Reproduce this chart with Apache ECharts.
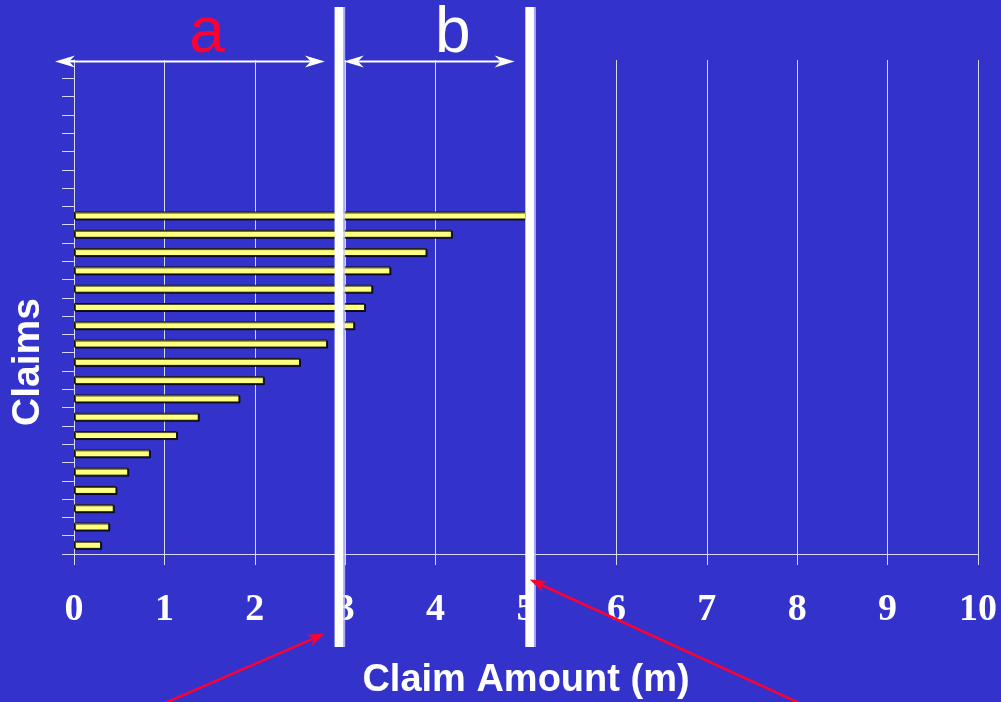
<!DOCTYPE html>
<html>
<head>
<meta charset="utf-8">
<script src="https://cdn.jsdelivr.net/npm/echarts@6/dist/echarts.min.js"></script>
<style>
  html, body { margin: 0; padding: 0; background: #3333cc; }
  #chart { width: 1001px; height: 702px; }
</style>
</head>
<body>
<div id="chart"></div>
<script>
// Individual claim amounts (m), smallest claim in the bottom row
const claimAmounts = [0.30, 0.39, 0.44, 0.47, 0.60, 0.84, 1.14, 1.38, 1.83, 2.10,
                      2.50, 2.80, 3.10, 3.22, 3.30, 3.50, 3.90, 4.18, 5.00];
// Unused claim rows above the largest claim
const emptyRows = 8;
// Claim amount axis ticks
const amountTicks = [0, 1, 2, 3, 4, 5, 6, 7, 8, 9, 10];
// Layer boundaries drawn as thick vertical lines
const layerBounds = [2.93, 5.04];
const layerLabels = ['a', 'b'];

const rows = [];
for (let i = 0; i < claimAmounts.length + emptyRows; i++) rows.push('Claim ' + (i + 1));

const BG = '#3333cc';
const GRID = '#d8d8f8';
const RED = '#ff0033';

// Overlay: layer boundaries, span arrows, their letters and the pointers below the axis
function drawLayers(params, api) {
  const cs = params.coordSys;
  const top = cs.y, bottom = cs.y + cs.height;
  const px = v => api.coord([v, 0])[0];
  const x0 = px(amountTicks[0]);
  const xa = px(layerBounds[0]);
  const xb = px(layerBounds[1]);
  const kids = [];

  // thick white boundary lines
  [xa, xb].forEach(x => {
    kids.push({
      type: 'rect',
      shape: { x: x - 4.3, y: top - 53, width: 8.6, height: cs.height + 146 },
      style: { fill: '#ffffff', shadowColor: 'rgba(200,200,255,0.8)', shadowOffsetX: 2, shadowBlur: 0 }
    });
  });

  // double-headed arrows along the top
  function head(tipX, y, dir, color, len, half, notch) {
    return {
      type: 'polygon',
      shape: { points: [[tipX, y], [tipX - dir * len, y - half], [tipX - dir * notch, y], [tipX - dir * len, y + half]] },
      style: { fill: color }
    };
  }
  function span(x1, x2, y) {
    kids.push({ type: 'line', shape: { x1: x1 + 6, y1: y, x2: x2 - 6, y2: y },
                style: { stroke: '#ffffff', lineWidth: 2 } });
    kids.push(head(x1, y, -1, '#ffffff', 20, 6, 14));
    kids.push(head(x2, y, 1, '#ffffff', 20, 6, 14));
  }
  const ay = top + 1.5;
  span(x0 - 19, xa - 14, ay);
  span(xa + 5, xb - 15, ay);

  // letters above the spans
  kids.push({ type: 'text', style: { text: layerLabels[0], x: x0 + 133, y: top + 6,
    fill: RED, font: '64px "Liberation Sans", Arial, sans-serif', align: 'center', verticalAlign: 'bottom' } });
  kids.push({ type: 'text', style: { text: layerLabels[1], x: xa + 114, y: top + 6,
    fill: '#ffffff', font: '64px "Liberation Sans", Arial, sans-serif', align: 'center', verticalAlign: 'bottom' } });

  // red pointers from below the axis to the boundary lines
  function pointer(tx, ty, fx, fy) {
    const ang = Math.atan2(ty - fy, tx - fx);
    const c = Math.cos(ang), s = Math.sin(ang);
    const len = 17, half = 6, notch = 12;
    const p = (a, b) => [tx - c * a - s * b, ty - s * a + c * b];
    kids.push({ type: 'line', shape: { x1: fx, y1: fy, x2: tx - c * notch, y2: ty - s * notch },
                style: { stroke: RED, lineWidth: 2.5 } });
    kids.push({ type: 'polygon', shape: { points: [[tx, ty], p(len, -half), p(notch, 0), p(len, half)] },
                style: { fill: RED } });
  }
  pointer(xa - 14, bottom + 79.5, xa - 190, bottom + 156);
  pointer(xb, bottom + 25.5, xb + 285, bottom + 156);

  return { type: 'group', children: kids };
}

const chart = echarts.init(document.getElementById('chart'), null, { renderer: 'canvas' });
chart.setOption({
  backgroundColor: BG,
  animation: false,
  grid: { left: 74, right: 23, top: 60, bottom: 148, containLabel: false, outerBoundsMode: 'none' },
  xAxis: {
    type: 'value',
    min: amountTicks[0],
    max: amountTicks[amountTicks.length - 1],
    interval: 1,
    name: 'Claim Amount (m)',
    nameLocation: 'middle',
    nameGap: 127,
    nameTextStyle: { color: '#ffffff', fontFamily: '"Liberation Sans", Arial, sans-serif',
                     fontWeight: 'bold', fontSize: 38, verticalAlign: 'middle' },
    axisLine: { show: true, lineStyle: { color: GRID, width: 1 } },
    axisTick: { show: true, length: 11, lineStyle: { color: GRID, width: 1 } },
    splitLine: { show: true, lineStyle: { color: GRID, width: 1 } },
    axisLabel: { color: '#ffffff', fontFamily: '"Liberation Serif", "Times New Roman", serif',
                 fontWeight: 'bold', fontSize: 38, margin: 56, verticalAlign: 'middle' }
  },
  yAxis: {
    type: 'category',
    data: rows,
    boundaryGap: true,
    axisLine: { show: true, lineStyle: { color: GRID, width: 1 } },
    axisTick: { show: true, length: 12, interval: 0, lineStyle: { color: GRID, width: 1 } },
    axisLabel: { show: false },
    splitLine: { show: false }
  },
  graphic: [{
    type: 'text',
    x: 28, y: 362,
    rotation: Math.PI / 2,
    style: { text: 'Claims', fill: '#ffffff', font: 'bold 39px "Liberation Sans", Arial, sans-serif',
             align: 'center', verticalAlign: 'middle' }
  }],
  series: [
    {
      type: 'bar',
      data: claimAmounts,
      barWidth: 8,
      itemStyle: { color: '#ffff80', borderColor: '#111111', borderWidth: 1,
                   shadowColor: 'rgba(0,0,0,0.7)', shadowOffsetX: 1, shadowOffsetY: 1, shadowBlur: 0 },
      z: 3
    },
    {
      type: 'custom',
      data: [0],
      renderItem: drawLayers,
      clip: false,
      silent: true,
      z: 10
    }
  ]
});
</script>
</body>
</html>
